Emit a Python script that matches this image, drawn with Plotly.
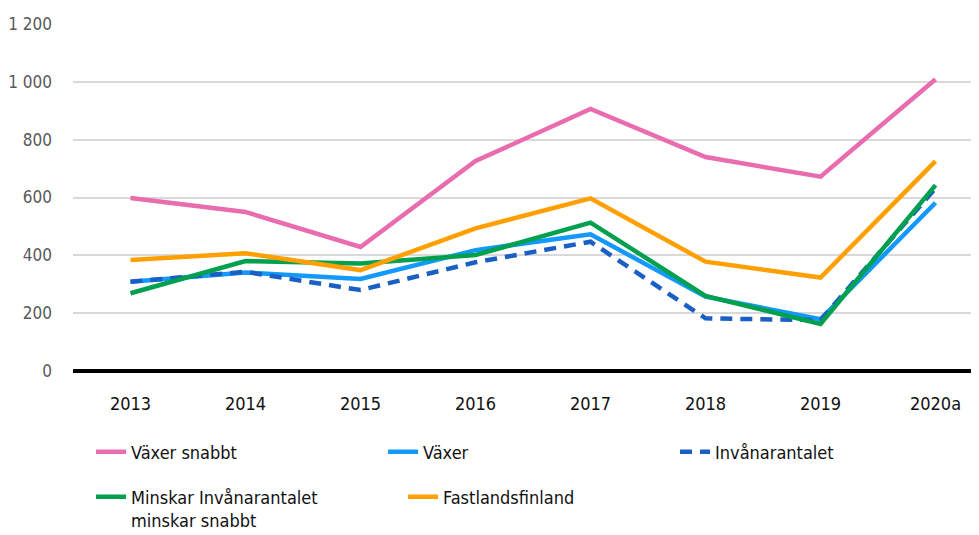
import plotly.graph_objects as go

years = ["2013", "2014", "2015", "2016", "2017", "2018", "2019", "2020a"]
vaxer_snabbt = [598, 550, 429, 726, 906, 740, 672, 1009]
vaxer = [309, 341, 318, 418, 473, 257, 179, 582]
invanarantalet = [309, 343, 280, 376, 447, 182, 176, 632]
minskar = [269, 380, 372, 401, 513, 260, 163, 643]
fastland = [384, 407, 349, 493, 597, 378, 323, 726]

ytick_vals = [0, 200, 400, 600, 800, 1000, 1200]
ytick_text = ["0", "200", "400", "600", "800", "1 000", "1 200"]

FONT = "DejaVu Sans Condensed, Liberation Sans Narrow, Arial Narrow, sans-serif"

fig = go.Figure()
fig.add_trace(go.Scatter(x=years, y=vaxer_snabbt, name="Växer snabbt", mode="lines",
                         line=dict(color="#E96CAF", width=4.5), legend="legend"))
fig.add_trace(go.Scatter(x=years, y=vaxer, name="Växer", mode="lines",
                         line=dict(color="#1299FB", width=4.5), legend="legend"))
fig.add_trace(go.Scatter(x=years, y=invanarantalet, name="Invånarantalet", mode="lines",
                         line=dict(color="#1A5FC4", width=4.5, dash="12px,8px"), legend="legend"))
fig.add_trace(go.Scatter(x=years, y=minskar, name="Minskar Invånarantalet<br>minskar snabbt", mode="lines",
                         line=dict(color="#00A04F", width=4.5), legend="legend2"))
fig.add_trace(go.Scatter(x=years, y=fastland, name="Fastlandsfinland", mode="lines",
                         line=dict(color="#FFA000", width=4.5), legend="legend2"))

fig.update_layout(
    width=971, height=527,
    margin=dict(l=65, r=0, t=16, b=164),
    paper_bgcolor="white", plot_bgcolor="white",
    font=dict(family=FONT, size=18, color="#111111"),
    showlegend=True,
    legend=dict(orientation="h", xref="container", yref="container",
                x=0.0855, xanchor="left", y=0.1924, yanchor="top",
                entrywidth=247, entrywidthmode="pixels", font=dict(size=18, color="#111111"),
                bgcolor="rgba(0,0,0,0)", traceorder="normal"),
    legend2=dict(orientation="h", xref="container", yref="container",
                 x=0.0855, xanchor="left", y=0.107, yanchor="top",
                 entrywidth=267, entrywidthmode="pixels", font=dict(size=18, color="#111111"),
                 bgcolor="rgba(0,0,0,0)", traceorder="normal", valign="top"),
)
fig.update_xaxes(type="category", range=[-0.5, 7.378], showgrid=False, showline=False,
                 zeroline=False, ticks="", ticklabelstandoff=20, automargin=False,
                 tickfont=dict(family=FONT, size=18, color="#111111"))
fig.update_yaxes(range=[0, 1200], tickvals=ytick_vals, ticktext=ytick_text,
                 showgrid=True, gridcolor="#D9D9D9", gridwidth=1.5,
                 zeroline=True, zerolinecolor="#000000", zerolinewidth=3.5,
                 showline=False, ticks="", ticklabelstandoff=20, automargin=False,
                 tickfont=dict(family=FONT, size=17, color="#595959"))

fig.write_html("out.html")
